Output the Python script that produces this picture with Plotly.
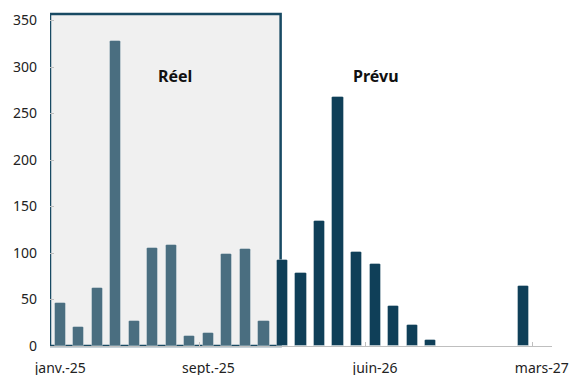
import plotly.graph_objects as go

months = ["janv.-25", "févr.-25", "mars-25", "avr.-25", "mai-25", "juin-25", "juil.-25", "août-25",
          "sept.-25", "oct.-25", "nov.-25", "déc.-25",
          "janv.-26", "févr.-26", "mars-26", "avr.-26", "mai-26", "juin-26", "juil.-26", "août-26",
          "sept.-26", "oct.-26", "nov.-26", "déc.-26", "janv.-27", "févr.-27", "mars-27"]
reel_values = [46, 20, 62, 328, 27, 105, 109, 11, 14, 99, 104, 27]
prevu_values = [93, 79, 134, 268, 101, 88, 43, 23, 6, 0, 0, 0, 0, 65, 0]
tick_labels = ["janv.-25", "sept.-25", "juin-26", "mars-27"]

idx = list(range(len(months)))
reel_x = idx[:len(reel_values)]
prevu_x = idx[len(reel_values):len(reel_values) + len(prevu_values)]
tick_positions = [months.index(t) for t in tick_labels]

REEL_COLOR = "#4a6e80"
PREVU_COLOR = "#0f3f58"
BORDER = "#184a63"
FONT = "Noto Sans"

fig = go.Figure()
fig.add_trace(go.Bar(x=reel_x, y=reel_values, width=0.6, name="Réel",
                     marker=dict(color=REEL_COLOR, cornerradius=2,
                                 line=dict(color="rgba(255,255,255,0.35)", width=1))))
fig.add_trace(go.Bar(x=prevu_x, y=prevu_values, width=0.6, name="Prévu",
                     marker=dict(color=PREVU_COLOR, cornerradius=2,
                                 line=dict(color="rgba(255,255,255,0.35)", width=1))))

fig.add_shape(type="rect", xref="x", yref="paper", x0=-0.55, x1=11.9, y0=0, y1=1,
              fillcolor="#f0f0f0", line=dict(color=BORDER, width=2.5), layer="below")

fig.add_annotation(x=6.2, y=290, text="<b>Réel</b>", showarrow=False,
                   font=dict(family=FONT, size=16, color="#111111"))
fig.add_annotation(x=17.05, y=290, text="<b>Prévu</b>", showarrow=False,
                   font=dict(family=FONT, size=16, color="#111111"))

fig.update_layout(
    width=569, height=375,
    margin=dict(l=50, r=17, t=14, b=29),
    paper_bgcolor="white", plot_bgcolor="white",
    showlegend=False, bargap=0,
    font=dict(family=FONT, size=14, color="#222222"),
)
fig.update_xaxes(
    range=[-0.55, 26.55], tickmode="array", tickvals=tick_positions, ticktext=tick_labels,
    ticks="", showgrid=False, zeroline=False, automargin=False,
    showline=True, linecolor="#bfbfbf", linewidth=1, ticklabelstandoff=9,
    minor=dict(tickvals=[p - 0.5 for p in tick_positions[1:]], ticks="inside",
               ticklen=4, tickcolor="#bfbfbf", showgrid=False),
    tickfont=dict(family=FONT, size=14, color="#222222"),
)
fig.update_yaxes(
    range=[0, 357], tickmode="array", tickvals=[0, 50, 100, 150, 200, 250, 300, 350],
    ticks="inside", ticklen=4, tickcolor="#bfbfbf", showgrid=False, zeroline=False,
    showline=False, ticklabelstandoff=12, automargin=False,
    tickfont=dict(family=FONT, size=14, color="#222222"),
)

fig.write_html("out.html", config={"displayModeBar": False},
               post_script="document.body.style.margin='0';document.body.style.overflow='hidden';")
